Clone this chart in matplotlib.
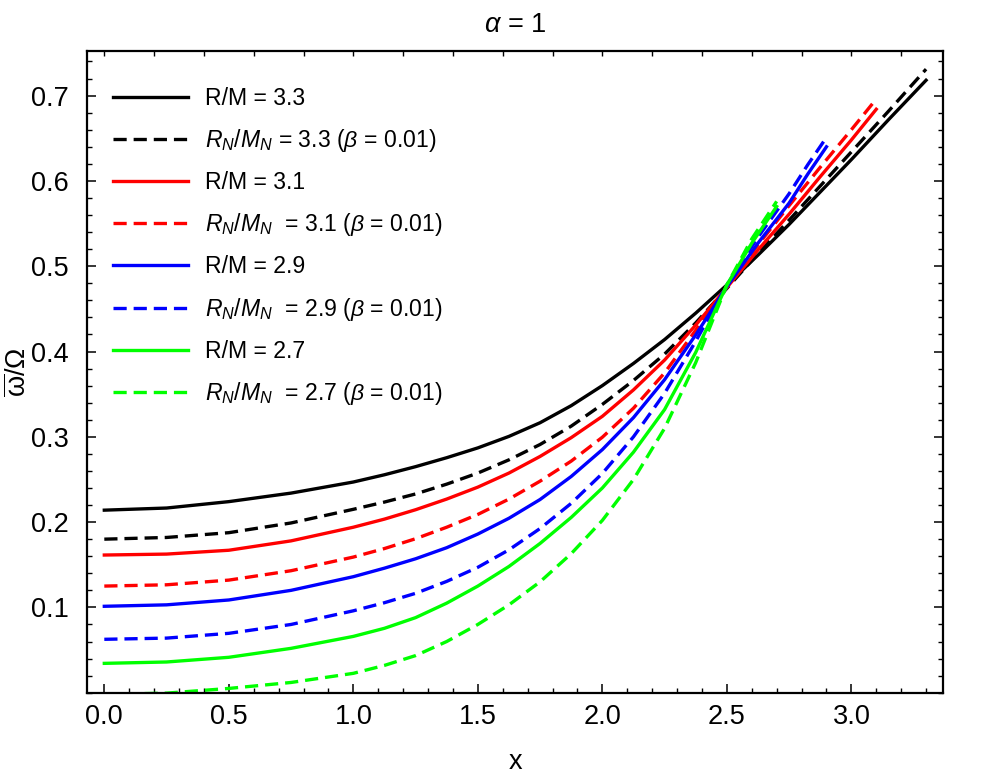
import matplotlib
matplotlib.use('Agg')
import matplotlib.pyplot as plt
from matplotlib.ticker import MultipleLocator

plt.rcParams['font.family'] = ['Liberation Sans', 'DejaVu Sans']
plt.rcParams['mathtext.fontset'] = 'custom'
plt.rcParams['mathtext.rm'] = 'Liberation Sans'
plt.rcParams['mathtext.it'] = 'Liberation Sans:italic'
plt.rcParams['mathtext.bf'] = 'Liberation Sans:bold'

# ---- data ----
x_33 = [0.0, 0.25, 0.5, 0.75, 1.0, 1.125, 1.25, 1.375, 1.5, 1.625, 1.75, 1.875, 2.0, 2.125,
        2.25, 2.375, 2.5, 2.625, 2.75, 2.875, 3.0, 3.15, 3.3]
y_33 = [0.214, 0.2165, 0.224, 0.234, 0.247, 0.2555, 0.265, 0.2755, 0.287, 0.3005, 0.3165,
        0.3365, 0.360, 0.386, 0.414, 0.445, 0.478, 0.513, 0.549, 0.587, 0.625, 0.672, 0.718]
y_33n = [0.180, 0.182, 0.1876, 0.199, 0.215, 0.2235, 0.233, 0.2445, 0.2575, 0.273, 0.291,
         0.3125, 0.338, 0.366, 0.397, 0.4335, 0.474, 0.515, 0.554, 0.594, 0.634, 0.682, 0.731]

x_31 = [0.0, 0.25, 0.5, 0.75, 1.0, 1.125, 1.25, 1.375, 1.5, 1.625, 1.75, 1.875, 2.0, 2.125,
        2.25, 2.375, 2.5, 2.625, 2.75, 2.875, 3.0, 3.1]
y_31 = [0.1614, 0.1625, 0.167, 0.178, 0.194, 0.2035, 0.2145, 0.227, 0.241, 0.2575, 0.277,
        0.299, 0.324, 0.355, 0.390, 0.431, 0.475, 0.519, 0.561, 0.605, 0.648, 0.684]
y_31n = [0.125, 0.1265, 0.132, 0.143, 0.159, 0.169, 0.1805, 0.194, 0.209, 0.227, 0.248,
         0.2715, 0.2995, 0.3335, 0.375, 0.425, 0.476, 0.525, 0.571, 0.616, 0.660, 0.696]

x_29 = [0.0, 0.25, 0.5, 0.75, 1.0, 1.125, 1.25, 1.375, 1.5, 1.625, 1.75, 1.875, 2.0, 2.125,
        2.25, 2.375, 2.5, 2.625, 2.75, 2.825, 2.9]
y_29 = [0.1013, 0.103, 0.1087, 0.120, 0.136, 0.146, 0.157, 0.170, 0.186, 0.2045, 0.2265,
        0.2535, 0.285, 0.3225, 0.367, 0.4195, 0.476, 0.527, 0.574, 0.608, 0.640]
y_29n = [0.0626, 0.064, 0.0696, 0.080, 0.096, 0.1055, 0.1165, 0.1305, 0.147, 0.1675, 0.1925,
         0.222, 0.257, 0.300, 0.351, 0.412, 0.478, 0.534, 0.585, 0.619, 0.651]

x_27 = [0.0, 0.25, 0.5, 0.75, 1.0, 1.125, 1.25, 1.375, 1.5, 1.625, 1.75, 1.875, 2.0, 2.125,
        2.25, 2.375, 2.5, 2.6, 2.7]
y_27 = [0.0344, 0.036, 0.0415, 0.052, 0.066, 0.0755, 0.088, 0.105, 0.125, 0.148, 0.175,
        0.2055, 0.240, 0.282, 0.332, 0.399, 0.478, 0.527, 0.570]
y_27n = [-0.002, -0.0005, 0.005, 0.012, 0.0227, 0.032, 0.0435, 0.060, 0.080, 0.103, 0.130,
         0.163, 0.202, 0.250, 0.310, 0.387, 0.478, 0.532, 0.576]

labels = [
    "R/M = 3.3",
    r"$R_N/M_N$ = 3.3 ($\beta$ = 0.01)",
    "R/M = 3.1",
    r"$R_N/M_N$  = 3.1 ($\beta$ = 0.01)",
    "R/M = 2.9",
    r"$R_N/M_N$  = 2.9 ($\beta$ = 0.01)",
    "R/M = 2.7",
    r"$R_N/M_N$  = 2.7 ($\beta$ = 0.01)",
]

series = [
    (x_33, y_33, 'black', False),
    (x_33, y_33n, 'black', True),
    (x_31, y_31, '#ff0000', False),
    (x_31, y_31n, '#ff0000', True),
    (x_29, y_29, '#0000ff', False),
    (x_29, y_29n, '#0000ff', True),
    (x_27, y_27, '#00ff00', False),
    (x_27, y_27n, '#00ff00', True),
]

W, H = 997, 777
fig = plt.figure(figsize=(W / 100, H / 100), dpi=100)
L, R, B, T = 87, 943, 692.7, 51
ax = fig.add_axes([L / W, 1 - B / H, (R - L) / W, (B - T) / H])

lw = 2.4
for (xs, ys, c, dashed), lab in zip(series, labels):
    if dashed:
        ax.plot(xs, ys, color=c, lw=lw, linestyle=(0, (9.5 / lw, 5.0 / lw)),
                label=lab, dash_capstyle='butt')
    else:
        ax.plot(xs, ys, color=c, lw=lw, label=lab)

ax.set_xlim(-0.0695, 3.368)
ax.set_ylim(0.0, 0.7523)

ax.xaxis.set_minor_locator(MultipleLocator(0.1))
ax.yaxis.set_minor_locator(MultipleLocator(0.02))
ax.set_yticks([0.1, 0.2, 0.3, 0.4, 0.5, 0.6, 0.7])
ax.set_yticklabels(['0.1', '0.2', '0.3', '0.4', '0.5', '0.6', '0.7'])
ax.set_xticks([0.0, 0.5, 1.0, 1.5, 2.0, 2.5, 3.0])
ax.set_xticklabels(['0.0', '0.5', '1.0', '1.5', '2.0', '2.5', '3.0'])

ax.tick_params(axis='both', which='major', direction='in', length=6.3, width=1.1,
               labelsize=19.5, top=False, right=True, colors='black')
ax.tick_params(axis='x', which='major', pad=8)
ax.tick_params(axis='y', which='major', pad=13)
ax.tick_params(axis='both', which='minor', direction='in', length=3.4, width=1.0,
               top=False, right=True)

sec = ax.secondary_xaxis('top')
sec.set_xticks([0.0, 0.2, 0.4, 0.6, 0.8, 1.0, 1.2, 1.4, 1.6, 1.8, 2.0, 2.2, 2.4, 2.6, 2.8, 3.0, 3.2])
sec.tick_params(direction='in', length=3.4, width=1.0, labeltop=False)
sec.spines['top'].set_visible(False)

for s in ax.spines.values():
    s.set_linewidth(1.6)

ax.set_xlabel('x', fontsize=19.5, labelpad=13.5)
ax.set_ylabel(r'$\overline{\mathrm{\omega}}$/Ω', fontsize=19.5, labelpad=-1)
ax.set_title(r'$\alpha$ = 1', fontsize=19.5, pad=13.5)

fs_leg = 16.6
leg = ax.legend(loc='upper left', bbox_to_anchor=(0.0223, 0.955), frameon=False,
                fontsize=fs_leg, handlelength=3.25, handletextpad=0.76, labelspacing=0.745,
                borderaxespad=0.0, borderpad=0.3)

fig.savefig('out.png', dpi=100)
